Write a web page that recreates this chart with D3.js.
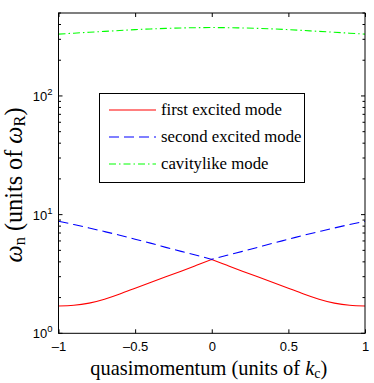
<!DOCTYPE html>
<html><head><meta charset="utf-8">
<script src="https://cdn.jsdelivr.net/npm/d3@7"></script>
<style>body{margin:0;background:#fff}svg{display:block}
.serif{font-family:"Liberation Serif","DejaVu Serif","Times New Roman",Times,serif}
.sans{font-family:"Liberation Sans",Arial,Helvetica,sans-serif}
</style>
</head><body>
<script>
// data
const qValues = [-1,-0.9,-0.8,-0.7,-0.6,-0.5,-0.4,-0.3,-0.2,-0.1,0,0.1,0.2,0.3,0.4,0.5,0.6,0.7,0.8,0.9,1];
const firstExcited = [1.70,1.722,1.797,1.939,2.145,2.40,2.68,2.99,3.34,3.74,4.19,3.74,3.34,2.99,2.68,2.40,2.145,1.939,1.797,1.722,1.70];
const secondExcited = [8.8,8.25,7.72,7.2,6.7,6.2,5.75,5.3,4.9,4.55,4.2,4.55,4.9,5.3,5.75,6.2,6.7,7.2,7.72,8.25,8.8];
const cavitylike = [332,338,344,350,356,362,367,371,374,376,377,376,374,371,367,362,356,350,344,338,332];
const xTicks = [-1,-0.5,0,0.5,1];
const yMajorTicks = [1,10,100];
const seriesNames = ["first excited mode","second excited mode","cavitylike mode"];

const W=374,H=383;
const m={l:58.5,r:365,t:13,b:333.3};
const svg=d3.select("body").append("svg").attr("width",W).attr("height",H);
const x=d3.scaleLinear().domain([-1,1]).range([m.l,m.r]);
const y=d3.scaleLog().domain([1,500]).range([m.b,m.t]);

const series=[
 {name:seriesNames[0],vals:firstExcited,color:"#ff0000",dash:null,cusp:true},
 {name:seriesNames[1],vals:secondExcited,color:"#0000ff",dash:"10,5",cusp:true},
 {name:seriesNames[2],vals:cavitylike,color:"#00ff00",dash:"7,3,1.5,3",cusp:false}
];
const line=d3.line().x(d=>x(d[0])).y(d=>y(d[1])).curve(d3.curveNatural);
const plot=svg.append("g");
series.forEach(s=>{
 const pts=qValues.map((q,i)=>[q,s.vals[i]]);
 const mid=qValues.indexOf(0);
 let d;
 if(s.cusp){
  d=line(pts.slice(0,mid+1))+line(pts.slice(mid)).replace(/^M[^C]*/, "L"+x(0)+","+y(s.vals[mid]));
 } else d=line(pts);
 plot.append("path").attr("d",d).attr("fill","none").attr("stroke",s.color).attr("stroke-width",1.1)
  .attr("stroke-dasharray",s.dash);
});

// frame
svg.append("rect").attr("x",m.l).attr("y",m.t).attr("width",m.r-m.l).attr("height",m.b-m.t)
 .attr("fill","none").attr("stroke","#000").attr("stroke-width",1);

// x axes
const xb=d3.axisBottom(x).tickValues(xTicks).tickSize(-4).tickPadding(8)
 .tickFormat(d=>d===0?"0":(d<0?"\u2013"+Math.abs(d):String(d)));
const gx=svg.append("g").attr("transform",`translate(0,${m.b})`).call(xb);
gx.select(".domain").remove();
gx.attr("font-family",null).attr("font-size",null);
gx.selectAll("text").attr("class","sans").style("font-size","13px").attr("fill","#000");
const gxt=svg.append("g").attr("transform",`translate(0,${m.t})`).call(d3.axisTop(x).tickValues(xTicks).tickSize(-4).tickFormat(""));
gxt.select(".domain").remove();

// y ticks
const minor=[];
for(let p=0;p<3;p++){for(let k=1;k<10;k++){const v=k*Math.pow(10,p); if(v<=500) minor.push(v);}}
const tg=svg.append("g");
minor.forEach(v=>{
 const len=yMajorTicks.includes(v)?4:2.5;
 tg.append("line").attr("x1",m.l).attr("x2",m.l+len).attr("y1",y(v)).attr("y2",y(v)).attr("stroke","#000");
 tg.append("line").attr("x1",m.r).attr("x2",m.r-len).attr("y1",y(v)).attr("y2",y(v)).attr("stroke","#000");
});
yMajorTicks.forEach((v,i)=>{
 const t=svg.append("text").attr("class","sans").attr("x",m.l-6).attr("y",y(v)+5).attr("text-anchor","end")
  .style("font-size","13px").attr("fill","#000");
 t.append("tspan").text("10");
 t.append("tspan").attr("dy",-6).style("font-size","9.5px").text(String(Math.round(Math.log10(v))));
});

function fitWidth(sel,target){
 const w=sel.node().getComputedTextLength();
 if(w>0){const fs=parseFloat(sel.style("font-size")); sel.style("font-size",(fs*target/w)+"px");}
}

// axis labels
const xl=svg.append("text").attr("class","serif").attr("x",(m.l+m.r)/2-3).attr("y",375).attr("text-anchor","middle")
 .style("font-size","15.5px").attr("fill","#000");
xl.append("tspan").text("quasimomentum (units of ");
xl.append("tspan").attr("font-style","italic").text("k");
xl.append("tspan").attr("dy",3).style("font-size","0.68em").text("c");
xl.append("tspan").attr("dy",-3).text(")");
fitWidth(xl,237);

const yl=svg.append("text").attr("class","serif").attr("transform",`translate(22,185) rotate(-90)`).attr("text-anchor","middle")
 .style("font-size","15.5px").attr("fill","#000");
yl.append("tspan").attr("font-style","italic").text("ω");
yl.append("tspan").attr("dy",3).style("font-size","0.68em").text("n");
yl.append("tspan").attr("dy",-3).text(" (units of ");
yl.append("tspan").attr("font-style","italic").text("ω");
yl.append("tspan").attr("dy",3).style("font-size","0.68em").text("R");
yl.append("tspan").attr("dy",-3).text(")");
fitWidth(yl,155);

// legend
const lg=svg.append("g");
lg.append("rect").attr("x",99.5).attr("y",93.5).attr("width",205).attr("height",89)
 .attr("fill","#fff").attr("stroke","#000").attr("stroke-width",1);
const rows=[110,137,164];
let legFs=null;
series.forEach((s,i)=>{
 lg.append("line").attr("x1",109).attr("x2",156).attr("y1",rows[i]).attr("y2",rows[i])
  .attr("stroke",s.color).attr("stroke-width",1.1).attr("stroke-dasharray",s.dash);
 const t=lg.append("text").attr("class","serif").attr("x",161).attr("y",rows[i]+4.5).style("font-size","14.5px")
  .attr("fill","#000").text(s.name);
 if(i===0){fitWidth(t,121); legFs=t.style("font-size");} else t.style("font-size",legFs);
});
</script>
</body></html>
